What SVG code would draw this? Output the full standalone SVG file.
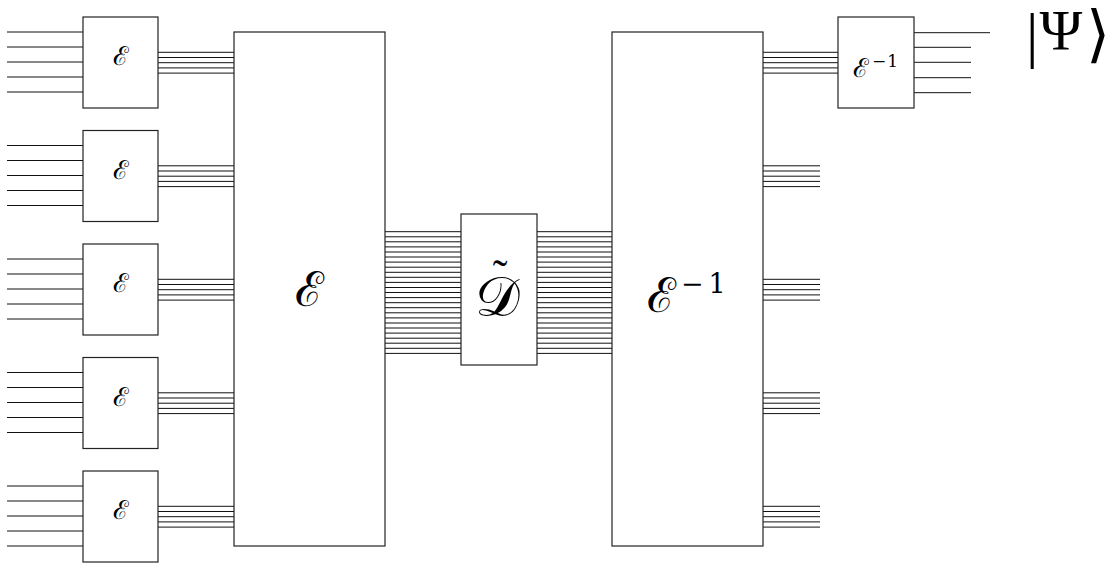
<svg xmlns="http://www.w3.org/2000/svg" width="1111" height="565" viewBox="0 0 1111 565">
<style>
.box{fill:#fff;stroke:#222;stroke-width:1.2}
.w{stroke:#111;stroke-width:1;fill:none}
.lbl{font-family:"DejaVu Serif","Liberation Serif",serif;fill:#000;text-anchor:middle}
.sup{font-family:"DejaVu Serif","Liberation Serif",serif;fill:#000}
.sym{font-family:"Liberation Serif","DejaVu Serif",serif;fill:#000}
</style>
<rect width="1111" height="565" fill="#fff"/>
<g id="connectors">
<path class="w" d="M7 32h76M7 47h76M7 62h76M7 77h76M7 92h76 M158 52.3h76M158 57.5h76M158 62.7h76M158 67.9h76M158 73.1h76"/>
<path class="w" d="M7 145.5h76M7 160.5h76M7 175.5h76M7 190.5h76M7 205.5h76 M158 165.8h76M158 171h76M158 176.2h76M158 181.4h76M158 186.6h76"/>
<path class="w" d="M7 259h76M7 274h76M7 289h76M7 304h76M7 319h76 M158 279.3h76M158 284.5h76M158 289.7h76M158 294.9h76M158 300.1h76"/>
<path class="w" d="M7 372.5h76M7 387.5h76M7 402.5h76M7 417.5h76M7 432.5h76 M158 392.8h76M158 398h76M158 403.2h76M158 408.4h76M158 413.6h76"/>
<path class="w" d="M7 486h76M7 501h76M7 516h76M7 531h76M7 546h76 M158 506.3h76M158 511.5h76M158 516.7h76M158 521.9h76M158 527.1h76"/>
<path class="w" d="M385 231.7h76M385 236.8h76M385 241.8h76M385 246.9h76M385 252h76M385 257h76M385 262.1h76M385 267.2h76M385 272.3h76M385 277.3h76M385 282.4h76M385 287.5h76M385 292.5h76M385 297.6h76M385 302.7h76M385 307.7h76M385 312.8h76M385 317.9h76M385 323h76M385 328h76M385 333.1h76M385 338.2h76M385 343.2h76M385 348.3h76M385 353.4h76"/>
<path class="w" d="M537 231.7h75M537 236.8h75M537 241.8h75M537 246.9h75M537 252h75M537 257h75M537 262.1h75M537 267.2h75M537 272.3h75M537 277.3h75M537 282.4h75M537 287.5h75M537 292.5h75M537 297.6h75M537 302.7h75M537 307.7h75M537 312.8h75M537 317.9h75M537 323h75M537 328h75M537 333.1h75M537 338.2h75M537 343.2h75M537 348.3h75M537 353.4h75"/>
<path class="w" d="M763 52.3h75M763 57.5h75M763 62.7h75M763 67.9h75M763 73.1h75"/>
<path class="w" d="M763 165.8h57M763 171h57M763 176.2h57M763 181.4h57M763 186.6h57"/>
<path class="w" d="M763 279.3h57M763 284.5h57M763 289.7h57M763 294.9h57M763 300.1h57"/>
<path class="w" d="M763 392.8h57M763 398h57M763 403.2h57M763 408.4h57M763 413.6h57"/>
<path class="w" d="M763 506.3h57M763 511.5h57M763 516.7h57M763 521.9h57M763 527.1h57"/>
<path class="w" d="M914 32.7h76M914 47.3h57M914 62.3h57M914 77.7h57M914 92.7h57"/>
</g>
<g id="enc1"><rect class="box" x="83" y="17" width="75" height="91"/><text class="lbl" x="120.5" y="65" font-size="26">ℰ</text></g>
<g id="enc2"><rect class="box" x="83" y="130.5" width="75" height="91"/><text class="lbl" x="120.5" y="178.5" font-size="26">ℰ</text></g>
<g id="enc3"><rect class="box" x="83" y="244" width="75" height="91"/><text class="lbl" x="120.5" y="292" font-size="26">ℰ</text></g>
<g id="enc4"><rect class="box" x="83" y="357.5" width="75" height="91"/><text class="lbl" x="120.5" y="405.5" font-size="26">ℰ</text></g>
<g id="enc5"><rect class="box" x="83" y="471" width="75" height="91"/><text class="lbl" x="120.5" y="519" font-size="26">ℰ</text></g>
<g id="encBig"><rect class="box" x="234" y="32" width="151" height="514"/><text class="lbl" x="309" y="306" font-size="48">ℰ</text></g>
<g id="decoder"><rect class="box" x="461" y="214" width="76" height="151"/><text class="lbl" x="497" y="316" font-size="56">𝒟<tspan class="sym" x="500" y="290" font-size="44">˜</tspan></text></g>
<g id="decBig"><rect class="box" x="612" y="32" width="151" height="514"/><text class="lbl" x="661" y="312" font-size="48">ℰ</text><text class="sup" x="681" y="293" font-size="27" letter-spacing="5">−1</text></g>
<g id="decSmall"><rect class="box" x="838" y="17" width="76" height="91"/><text class="lbl" x="860.5" y="77" font-size="26">ℰ</text><text class="sup" x="872" y="67" font-size="17" letter-spacing="1">−1</text></g>
<g id="psi"><text class="sym" x="1026" y="56" font-size="62">|</text><text class="sym" x="1061" y="50" font-size="58" text-anchor="middle">Ψ</text><text class="sym" x="1086" y="55" font-size="62">⟩</text></g>
</svg>
